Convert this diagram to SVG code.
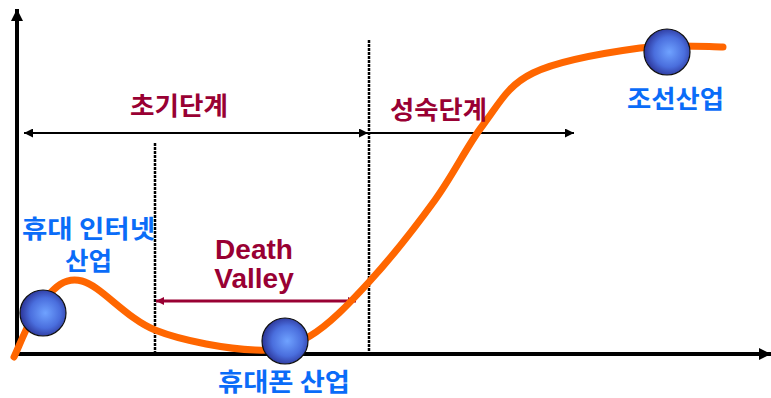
<svg xmlns="http://www.w3.org/2000/svg" width="771" height="398" viewBox="0 0 771 398">
<style>
.kr{font-family:"Noto Sans CJK KR","Noto Sans",sans-serif;font-weight:bold;font-size:25px;}
.red{fill:#990033;}
.blue{fill:#0A6CF8;}
.en{font-family:"Liberation Sans",Arial,sans-serif;font-weight:bold;font-size:28px;fill:#990033;}
.dash{stroke:#000;stroke-width:2.5;stroke-dasharray:3 1;fill:none;}
.thin{stroke:#000;stroke-width:2;fill:none;}
.ball{fill:url(#bg);stroke:#111;stroke-width:1.2;}
</style>
<defs>
<radialGradient id="bg" cx="0.55" cy="0.5" r="0.55">
<stop offset="0" stop-color="#6FA2FF"/>
<stop offset="0.6" stop-color="#4A6EDD"/>
<stop offset="1" stop-color="#2B3396"/>
</radialGradient>
<marker id="ah" viewBox="0 0 10 10" refX="10" refY="5" markerWidth="9" markerHeight="9" markerUnits="userSpaceOnUse" orient="auto-start-reverse"><path d="M0,0 L10,5 L0,10 Z" fill="#000"/></marker>
<marker id="ahb" viewBox="0 0 10 10" refX="10" refY="5" markerWidth="12" markerHeight="12" markerUnits="userSpaceOnUse" orient="auto"><path d="M0,0 L10,5 L0,10 Z" fill="#000"/></marker>
<marker id="ahr" viewBox="0 0 10 10" refX="10" refY="5" markerWidth="8" markerHeight="8" markerUnits="userSpaceOnUse" orient="auto-start-reverse"><path d="M0,0 L10,5 L0,10 Z" fill="#990033"/></marker>
</defs>
<rect width="771" height="398" fill="#fff"/>
<g id="connectors">
<line x1="17" y1="356" x2="17" y2="9" stroke="#000" stroke-width="4" marker-end="url(#ahb)"/>
<line x1="15" y1="354" x2="771" y2="354" stroke="#000" stroke-width="4" marker-end="url(#ahb)"/>
<line class="dash" x1="155" y1="143" x2="155" y2="354"/>
<line class="dash" x1="369" y1="40" x2="369" y2="354"/>
<line class="thin" x1="24" y1="133" x2="368" y2="133" marker-start="url(#ah)" marker-end="url(#ah)"/>
<line class="thin" x1="370" y1="133" x2="574" y2="133" marker-end="url(#ah)"/>
<line x1="156" y1="301" x2="356" y2="301" stroke="#990033" stroke-width="3" marker-start="url(#ahr)" marker-end="url(#ahr)"/>
</g>
<g id="curve">
<path d="M14,357 C18.7,347.8 30.7,314.7 42,302 C53.3,289.3 63.2,276.3 82,281 C100.8,285.7 126.2,318.5 155,330 C183.8,341.5 229.2,349 255,350 C280.8,351 291,347.3 310,336 C329,324.7 348.2,304.7 369,282 C389.8,259.3 416,226.2 435,200 C454,173.8 466.7,146.2 483,125 C499.3,103.8 506.8,85.8 533,73 C559.2,60.2 608.3,52.3 640,48 C671.7,43.7 709.2,47 723,47" fill="none" stroke="#FF6600" stroke-width="7" stroke-linecap="round"/>
</g>
<g id="node-internet">
<circle class="ball" cx="43" cy="313" r="23"/>
<text class="kr blue" x="22" y="238" textLength="133" lengthAdjust="spacingAndGlyphs">휴대 인터넷</text>
<text class="kr blue" x="65" y="270" textLength="47" lengthAdjust="spacingAndGlyphs">산업</text>
</g>
<g id="node-phone">
<circle class="ball" cx="285" cy="341" r="23"/>
<text class="kr blue" x="218" y="391" textLength="132" lengthAdjust="spacingAndGlyphs">휴대폰 산업</text>
</g>
<g id="node-ship">
<circle class="ball" cx="667" cy="52" r="23"/>
<text class="kr blue" x="627" y="108" textLength="97" lengthAdjust="spacingAndGlyphs">조선산업</text>
</g>
<g id="label-early">
<text class="kr red" x="130" y="115" textLength="98" lengthAdjust="spacingAndGlyphs">초기단계</text>
</g>
<g id="label-mature">
<text class="kr red" x="390" y="119" textLength="97" lengthAdjust="spacingAndGlyphs">성숙단계</text>
</g>
<g id="label-death">
<text class="en" x="254" y="259" text-anchor="middle">Death</text>
<text class="en" x="254" y="288" text-anchor="middle">Valley</text>
</g>
</svg>
